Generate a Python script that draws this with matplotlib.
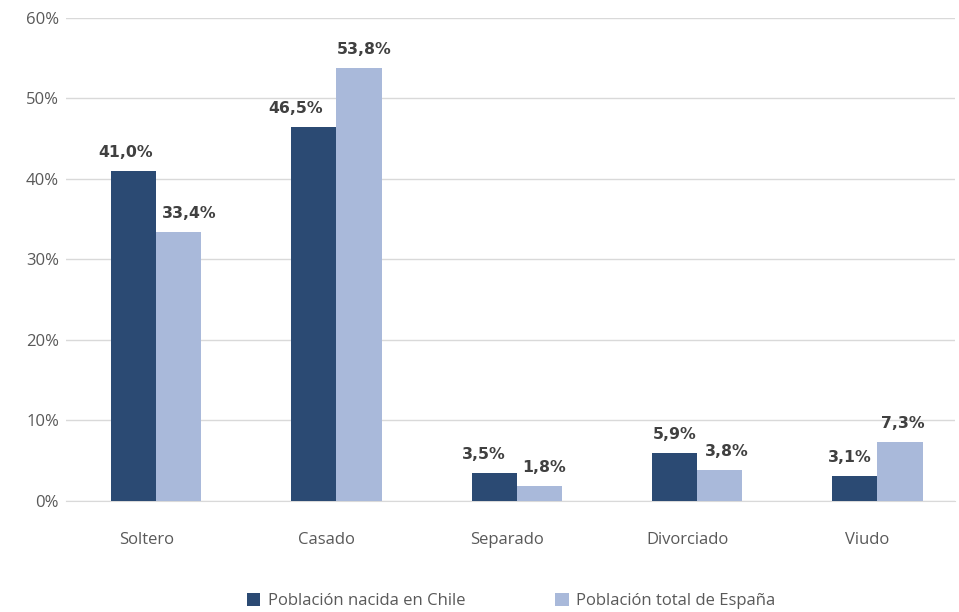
import numpy as np
import matplotlib.pyplot as plt
from matplotlib.transforms import ScaledTranslation

plt.rcParams['font.family'] = ['Open Sans', 'DejaVu Sans']

categorias = ['Soltero', 'Casado', 'Separado', 'Divorciado', 'Viudo']
chile = [41.0, 46.5, 3.5, 5.9, 3.1]
espana = [33.4, 53.8, 1.8, 3.8, 7.3]
series = ['Población nacida en Chile', 'Población total de España']

c_dark = '#2B4A73'
c_light = '#A9B9DA'
gris = '#595959'

# desplazamiento horizontal (px) de las etiquetas de datos respecto al centro de la barra
dx_chile = [-8, -18, -10, 0, -5]
dx_espana = [11, 5, 5, 7, 3]

fig = plt.figure(figsize=(9.59, 6.12), dpi=100)
ax = fig.add_axes([0.0688, 0.1814, 0.927, 0.7892])

x = np.arange(len(categorias))
w = 0.25
b1 = ax.bar(x - w/2, chile, w, color=c_dark, label=series[0], zorder=3)
b2 = ax.bar(x + w/2, espana, w, color=c_light, label=series[1], zorder=3)

for bars, vals, dxs in [(b1, chile, dx_chile), (b2, espana, dx_espana)]:
    for r, v, d in zip(bars, vals, dxs):
        ax.annotate(f'{v:.1f}%'.replace('.', ','), (r.get_x() + r.get_width()/2, v),
                    xytext=(d * 0.72, 8), textcoords='offset points',
                    ha='center', va='bottom', fontsize=11.3, fontweight='bold',
                    family='DejaVu Sans', color='#404040')

ax.set_ylim(0, 60)
ax.set_xlim(-0.5, 4.43)
ax.set_yticks(range(0, 61, 10))
ax.set_yticklabels([f'{t}%' for t in range(0, 61, 10)])
ax.set_xticks(x)
ax.set_xticklabels(categorias)
ax.grid(axis='y', color='#D9D9D9', linewidth=1, zorder=0)
for s in ['top', 'right', 'left']:
    ax.spines[s].set_visible(False)
ax.spines['bottom'].set_color('#D9D9D9')
ax.tick_params(axis='both', length=0, colors=gris, labelsize=12)
ax.tick_params(axis='x', pad=22)
ax.tick_params(axis='y', pad=5)

# etiquetas de categoria algo desplazadas a la izquierda, como en el original
off = ScaledTranslation(-10/100, 0, fig.dpi_scale_trans)
for lab in ax.get_xticklabels():
    lab.set_transform(lab.get_transform() + off)

fig.legend(handles=[b1, b2], loc='lower center', bbox_to_anchor=(0.533, -0.02), ncol=2,
           frameon=False, fontsize=12, labelcolor=gris, handlelength=0.8, handleheight=0.8,
           columnspacing=5.4, handletextpad=0.45)

fig.savefig('out.png', dpi=100)
